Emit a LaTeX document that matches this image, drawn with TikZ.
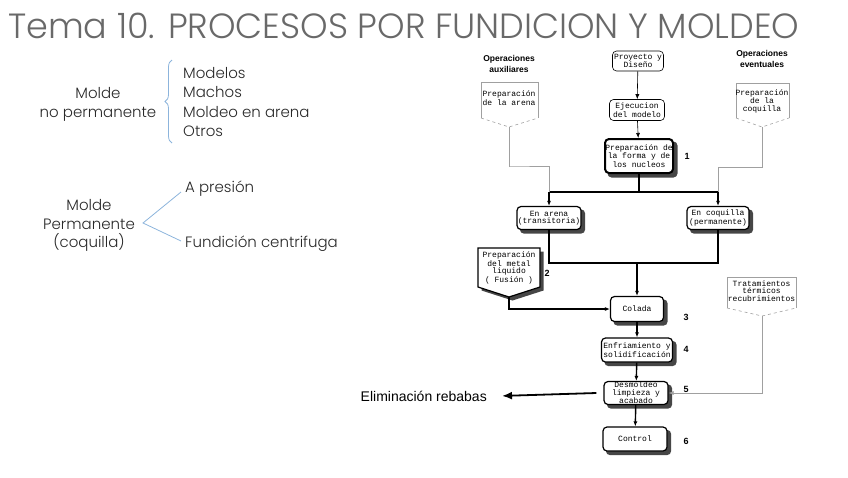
\documentclass[tikz,border=0pt]{standalone}
\usepackage{fontspec}
\setmainfont{Poppins Light}
\newfontfamily\monof{Liberation Mono}
\newfontfamily\arialf{Liberation Sans}
\usetikzlibrary{arrows.meta,decorations.pathreplacing}
\pgfdeclarelayer{background}
\pgfsetlayers{background,main}
\definecolor{titlegray}{RGB}{105,105,105}
\definecolor{txt}{RGB}{40,40,40}
\definecolor{bracecol}{RGB}{140,180,220}
\definecolor{pale}{RGB}{160,160,160}
\definecolor{shadowcol}{RGB}{70,70,70}
\newcommand{\boxshadow}[1]{%
  \begin{pgfonlayer}{background}
  \fill[shadowcol,rounded corners=4pt] ([shift={(3.5pt,-3.5pt)}]#1.south west) rectangle ([shift={(3.5pt,-3.5pt)}]#1.north east);
  \end{pgfonlayer}}
\begin{document}
\begin{tikzpicture}[x=1pt,y=-1pt,
  lefttext/.style={anchor=base west,inner sep=0,text=txt,font=\fontsize{15}{18}\selectfont},
  centtext/.style={anchor=base,inner sep=0,text=txt,font=\fontsize{15}{18}\selectfont},
  boxfont/.style={font=\monof\fontsize{8}{7.4}\selectfont},
  thinbox/.style={draw,rounded corners=4pt,line width=0.6pt,inner sep=0,align=center,boxfont},
  fbox/.style={draw,rounded corners=4pt,line width=1.2pt,fill=white,inner sep=0,align=center,boxfont},
  ptext/.style={inner sep=0,align=center,boxfont},
  head/.style={inner sep=0,align=center,font=\arialf\bfseries\fontsize{8.5}{11}\selectfont},
  num/.style={inner sep=0,font=\arialf\bfseries\fontsize{9}{9}\selectfont},
  flow/.style={line width=1.4pt,-{Latex[length=5pt,width=4pt]}},
  flowl/.style={line width=1.4pt},
  thinarr/.style={line width=0.6pt,-{Latex[length=5pt,width=4pt]}},
  palel/.style={draw=pale,line width=0.6pt},
  palearr/.style={draw=pale,line width=0.6pt,-{Latex[length=5pt,width=4pt]}}
]
\useasboundingbox (0,0) rectangle (848,477);

% title
\node[anchor=base west,inner sep=0,text=titlegray,font=\fontsize{35}{35}\selectfont] (title) at (8,38) {Tema 10. PROCESOS POR FUNDICION Y MOLDEO};

% left part
\node[centtext] (m1) at (98,98) {Molde};
\node[centtext] (np) at (98,117) {no permanente};
\draw[bracecol,line width=0.8pt,decorate,decoration={brace,amplitude=7pt,aspect=0.5}] (172,143) -- (172,60);
\node[lefttext] (i1) at (183,78) {Modelos};
\node[lefttext] (i2) at (183,97.5) {Machos};
\node[lefttext] (i3) at (183,117) {Moldeo en arena};
\node[lefttext] (i4) at (183,136.5) {Otros};

\node[centtext] (m2) at (89,210) {Molde};
\node[centtext] (pm) at (89,229) {Permanente};
\node[centtext] (cq) at (89,247) {(coquilla)};
\coordinate (tipA) at (143,223);
\coordinate (upA) at (181,192);
\coordinate (loA) at (181,241);
\draw[bracecol,line width=0.8pt] (upA) -- (tipA) -- (loA);
\node[lefttext] (ap) at (185,192) {A presión};
\node[lefttext] (fc) at (185,247) {Fundición centrifuga};

% headings
\node[head] (h1) at (509,64) {Operaciones\\auxiliares};
\node[head] (h2) at (762,59) {Operaciones\\eventuales};

% main boxes
\node[thinbox,minimum width=51pt,minimum height=20pt] (proy) at (638,61) {Proyecto y\\Diseño};
\node[thinbox,minimum width=55pt,minimum height=21pt] (ejec) at (637,110) {Ejecucion\\del modelo};
\node[fbox,line width=2pt,minimum width=68pt,minimum height=34pt] (forma) at (639,156) {Preparación de\\la forma y de\\los nucleos};
\node[fbox,minimum width=64pt,minimum height=23pt] (arena) at (549,218) {En arena\\(transitoria)};
\node[fbox,minimum width=62pt,minimum height=23pt] (coq) at (718,218) {En coquilla\\(permanente)};
\node[fbox,minimum width=53pt,minimum height=25pt] (colada) at (637,309) {Colada};
\node[fbox,minimum width=71pt,minimum height=24pt] (enfr) at (637,350) {Enfriamiento y\\solidificación};
\node[fbox,minimum width=64pt,minimum height=23pt] (desm) at (636,393) {Desmoldeo\\limpieza y\\acabado};
\node[fbox,minimum width=64pt,minimum height=24pt] (ctrl) at (635,439) {Control};
\boxshadow{forma}
\boxshadow{arena}
\boxshadow{coq}
\boxshadow{colada}
\boxshadow{enfr}
\boxshadow{desm}
\boxshadow{ctrl}

% numbers
\node[num] (n1) at (687,156) {1};
\node[num] (n2) at (547,273) {2};
\node[num] (n3) at (686,317) {3};
\node[num] (n4) at (686,349) {4};
\node[num] (n5) at (686,389) {5};
\node[num] (n6) at (686,441) {6};

% pentagons
\draw[pale,line width=0.6pt] (538,118) -- (538,82) -- (481,82) -- (481,118);
\draw[pale,line width=0.6pt,dashed] (481,118) -- (509,127) -- (538,118);
\coordinate (paTip) at (509,127);
\node[ptext] (pa) at (509,98) {Preparación\\de la arena};

\draw[pale,line width=0.6pt] (789,118) -- (789,83) -- (736,83) -- (736,118);
\draw[pale,line width=0.6pt,dashed] (736,118) -- (762,127) -- (789,118);
\coordinate (pcTip) at (762,127);
\node[ptext] (pc) at (762,101) {Preparación\\de la\\coquilla};

\draw[pale,line width=0.6pt] (796,308) -- (796,277) -- (727,277) -- (727,308);
\draw[pale,line width=0.6pt,dashed] (727,308) -- (762,316) -- (796,308);
\coordinate (ptTip) at (762,316);
\node[ptext] (pt) at (761.5,291) {Tratamientos\\térmicos\\recubrimientos};

\fill[shadowcol] (481.5,251.5) -- (543.5,251.5) -- (543.5,290.5) -- (512.5,300.5) -- (481.5,290.5) -- cycle;
\draw[line width=1.2pt,fill=white] (478,248) -- (540,248) -- (540,287) -- (509,297) -- (478,287) -- cycle;
\coordinate (pmTip) at (509,297);
\node[ptext] (pmet) at (509,268) {Preparación\\del metal\\liquido\\( Fusión )};

% connectors
\draw[thinarr] (proy) -- (ejec);
\draw[thinarr] (ejec) -- (forma);
\coordinate (jTop) at (639,192);
\coordinate (jL) at (549,192);
\coordinate (jR) at (718,192);
\draw[flowl] (forma.south) -- (jTop);
\draw[flowl] (jL) -- (jR);
\draw[flow] (jL) -- (arena.north);
\draw[flow] (jR) -- (coq.north);
\draw[palel] (paTip) |- (510,166) -| (jL);
\draw[palel] (pcTip) |- (762,167) -| (jR);

\coordinate (bL) at (549,263);
\coordinate (bR) at (718,263);
\coordinate (bM) at (637,263);
\draw[flowl] (arena.south) -- (bL) -- (bR) -- (coq.south);
\draw[flow] (bM) -- (colada.north);
\draw[flow] (pmTip) |- (colada.west);
\draw[flow] (colada) -- (enfr);
\draw[flow] (enfr) -- (desm);
\draw[flow] (desm) -- (ctrl);
\draw[palearr] (ptTip) |- (desm.east);

\node[anchor=base east,inner sep=0,font=\arialf\fontsize{14}{14}\selectfont] (elim) at (487,401) {Eliminación rebabas};
\draw[line width=1.8pt,-{Latex[length=10pt,width=8pt]}] ([xshift=-7pt]desm.west) -- ([xshift=15pt]elim.east);
\end{tikzpicture}
\end{document}
